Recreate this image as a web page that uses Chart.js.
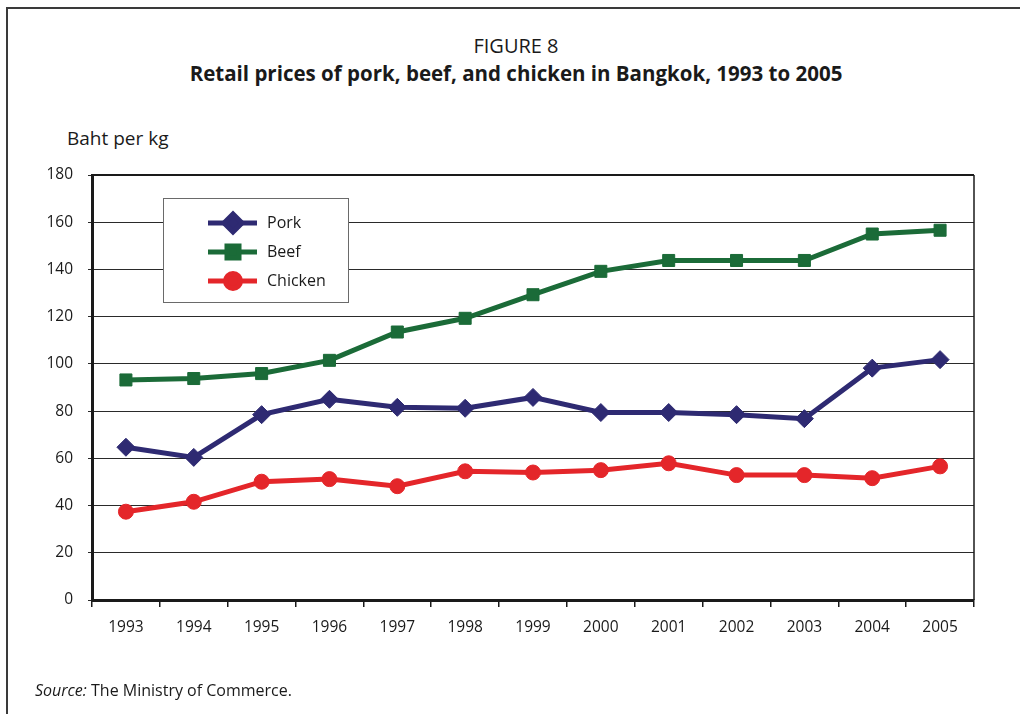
<!DOCTYPE html>
<html lang="en">
<head>
<meta charset="UTF-8">
<title>Figure 8 - Retail prices of pork, beef, and chicken in Bangkok</title>
<script src="https://cdn.jsdelivr.net/npm/chart.js@4.4.1/dist/chart.umd.min.js"></script>
<style>
    html, body { margin: 0; padding: 0; background: #fff; }
    body { width: 1020px; height: 714px; position: relative; overflow: hidden; font-family: 'Open Sans', sans-serif; color: #1a1a1a; }
    .frame { position: absolute; left: 6px; top: 7px; width: 1040px; height: 740px; border-left: 2px solid #3a3a3a; border-top: 2px solid #3a3a3a; }
    .fig-no { position: absolute; left: 0; top: 32px; width: 1032px; text-align: center; font-size: 20px; line-height: 28px; }
    .fig-title { position: absolute; left: 0; top: 59px; width: 1032px; text-align: center; font-size: 20.5px; line-height: 28px; font-weight: bold; }
    .unit { position: absolute; left: 67px; top: 125px; font-size: 19px; line-height: 26px; }
    .source { position: absolute; left: 35px; top: 679px; font-size: 16px; line-height: 22px; }
    #wrap { position: absolute; left: 0; top: 0; width: 1020px; height: 714px; }
</style>
</head>
<body>
    <div class="frame"></div>
    <div class="fig-no">FIGURE 8</div>
    <div class="fig-title">Retail prices of pork, beef, and chicken in Bangkok, 1993 to 2005</div>
    <div class="unit">Baht per kg</div>
    <div id="wrap"><canvas id="chart"></canvas></div>
    <div class="source"><i>Source:</i> The Ministry of Commerce.</div>

<script>
    // values (Baht per kg)
    const years = ['1993', '1994', '1995', '1996', '1997', '1998', '1999', '2000', '2001', '2002', '2003', '2004', '2005'];
    const pork = [64.7, 60.4, 78.5, 85.0, 81.6, 81.2, 85.8, 79.4, 79.4, 78.5, 76.8, 98.2, 101.8];
    const beef = [93.2, 93.8, 95.9, 101.5, 113.5, 119.3, 129.3, 139.2, 143.8, 143.8, 143.8, 155.0, 156.6];
    const chicken = [37.4, 41.6, 50.1, 51.2, 48.2, 54.5, 54.0, 55.0, 57.9, 52.9, 52.9, 51.6, 56.6];
    const yTicks = [0, 20, 40, 60, 80, 100, 120, 140, 160, 180];

    const seriesNames = ['Pork', 'Beef', 'Chicken'];
    const seriesColors = ['#2e2a72', '#1b6b38', '#e4262a'];
    const seriesMarkers = ['rectRot', 'rect', 'circle'];
    const markerSizes = [9, 8.5, 7.5];

    const font = { family: "'Open Sans', sans-serif", size: 15.5 };

    // plot frame: heavy top line and thin right line
    const framePlugin = {
        id: 'frame',
        beforeDatasetsDraw(chart) {
            const { ctx, chartArea: a } = chart;
            ctx.save();
            ctx.strokeStyle = '#1a1a1a';
            ctx.lineWidth = 2;
            ctx.beginPath();
            ctx.moveTo(a.left, a.top);
            ctx.lineTo(a.right, a.top);
            ctx.stroke();
            ctx.lineWidth = 1.5;
            ctx.beginPath();
            ctx.moveTo(a.right, a.top);
            ctx.lineTo(a.right, a.bottom);
            ctx.stroke();
            ctx.restore();
        }
    };

    // boxed legend sitting inside the plot area
    const boxLegend = {
        id: 'boxLegend',
        afterDatasetsDraw(chart) {
            const { ctx, chartArea: a } = chart;
            const x = a.left + 71, y = a.top + 23, w = 185, h = 104;
            ctx.save();
            ctx.fillStyle = '#fff';
            ctx.fillRect(x, y, w, h);
            ctx.strokeStyle = '#6a6a6a';
            ctx.lineWidth = 1;
            ctx.strokeRect(x + 0.5, y + 0.5, w, h);
            chart.data.datasets.forEach((ds, i) => {
                const cy = y + 25 + i * 29;
                ctx.strokeStyle = ds.borderColor;
                ctx.fillStyle = ds.borderColor;
                ctx.lineWidth = 5;
                ctx.beginPath();
                ctx.moveTo(x + 45, cy);
                ctx.lineTo(x + 94, cy);
                ctx.stroke();
                Chart.helpers.drawPoint(ctx, {
                    pointStyle: ds.pointStyle, radius: ds.pointRadius, rotation: 0, borderWidth: 1
                }, x + 70, cy);
                ctx.fillStyle = '#1a1a1a';
                ctx.font = "16px 'Open Sans', sans-serif";
                ctx.textBaseline = 'middle';
                ctx.fillText(ds.label, x + 104, cy);
            });
            ctx.restore();
        }
    };

    const seriesData = [pork, beef, chicken];
    const datasets = seriesData.map((values, i) => ({
        label: seriesNames[i],
        data: values,
        borderColor: seriesColors[i],
        backgroundColor: seriesColors[i],
        pointBackgroundColor: seriesColors[i],
        pointBorderColor: seriesColors[i],
        borderWidth: 5,
        pointStyle: seriesMarkers[i],
        pointRadius: markerSizes[i],
        pointBorderWidth: 1,
        tension: 0
    }));

    new Chart(document.getElementById('chart'), {
        type: 'line',
        data: { labels: years, datasets: datasets },
        options: {
            responsive: true,
            maintainAspectRatio: false,
            animation: false,
            layout: { padding: { left: 0, right: 46, top: 175, bottom: 74 } },
            plugins: {
                legend: { display: false },
                title: { display: false },
                tooltip: { enabled: false }
            },
            scales: {
                x: {
                    offset: true,
                    grid: { offset: true, drawOnChartArea: false, color: '#1a1a1a', lineWidth: 1.5, tickLength: 7 },
                    border: { color: '#1a1a1a', width: 3 },
                    ticks: { color: '#1a1a1a', font: font, padding: 11, maxRotation: 0 },
                    afterFit: s => { s.height = 40; }
                },
                y: {
                    min: 0,
                    max: 180,
                    afterBuildTicks: s => { s.ticks = yTicks.map(v => ({ value: v })); },
                    grid: { color: '#2a2a2a', lineWidth: 1, tickLength: 4 },
                    border: { color: '#1a1a1a', width: 3 },
                    ticks: { color: '#1a1a1a', font: font, padding: 15 },
                    afterFit: s => { s.width = 92; }
                }
            }
        },
        plugins: [framePlugin, boxLegend]
    });
</script>
</body>
</html>
